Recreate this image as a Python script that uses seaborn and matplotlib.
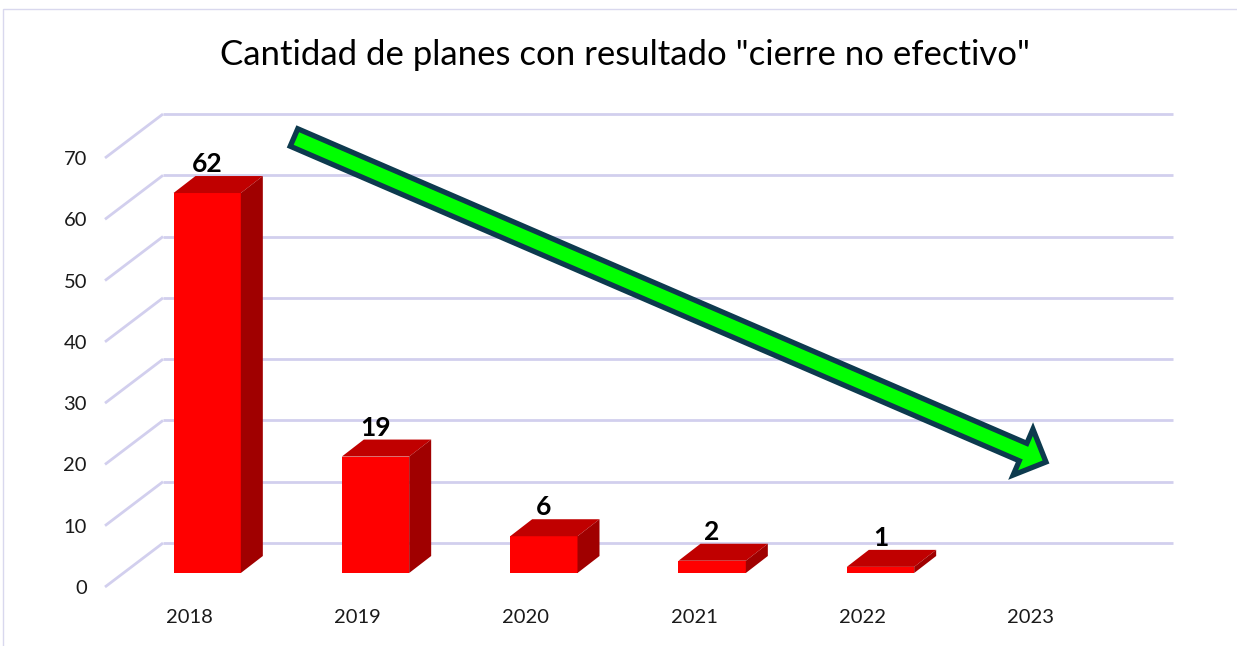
import numpy as np
import pandas as pd
import seaborn as sns
import matplotlib.pyplot as plt
from matplotlib.patches import Polygon, FancyArrow, Rectangle
from matplotlib.transforms import ScaledTranslation

years = ["2018", "2019", "2020", "2021", "2022", "2023"]
counts = [62, 19, 6, 2, 1, np.nan]
y_ticks = [0, 10, 20, 30, 40, 50, 60, 70]
title = 'Cantidad de planes con resultado "cierre no efectivo"'

sns.set_style("white")
plt.rcParams["font.family"] = ["Lato", "DejaVu Sans"]

W, H = 1237, 646
fig = plt.figure(figsize=(W / 100, H / 100), dpi=100)
ax = fig.add_axes([105 / W, (H - 587) / H, 1010 / W, 429 / H])

df = pd.DataFrame({"year": years, "count": counts}).dropna()
sns.barplot(data=df, x="year", y="count", order=years, color="#FF0000",
            saturation=1, width=0.4, errorbar=None, ax=ax, zorder=3,
            edgecolor="none", linewidth=0)

ax.set_xlim(-0.5, 5.5)
ax.set_ylim(0, 70)
ax.set_yticks(y_ticks)
ax.set_xlabel("")
ax.set_ylabel("")
sns.despine(ax=ax, left=True, bottom=True)
ax.tick_params(axis="x", length=0, pad=16, labelsize=14.5, labelcolor="#1a1a1a")
ax.tick_params(axis="y", length=0, pad=13, labelsize=14.5, labelcolor="#1a1a1a")

# pixel -> data unit scale
p = ax.transData.transform([(0, 0), (1, 1)])
sx, sy = p[1, 0] - p[0, 0], p[1, 1] - p[0, 1]

# back wall gridlines and side diagonals
grid_c = "#D2CFEE"
bdx, bdy = 58 / sx, 44 / sy
for v in y_ticks:
    ax.plot([-0.5 + bdx, 5.5 + bdx], [v + bdy, v + bdy], color=grid_c, lw=2,
            zorder=0.5, clip_on=False, solid_capstyle="butt")
    ax.plot([-0.5, -0.5 + bdx], [v, v + bdy], color=grid_c, lw=2,
            zorder=0.5, clip_on=False, solid_capstyle="butt")

# 3D faces of the bars
bar_tr = ax.transData + ScaledTranslation(0.18, 0.14, fig.dpi_scale_trans)
ddx, ddy = 22 / sx, 17 / sy
for bar in list(ax.patches):
    bar.set_transform(bar_tr)
    bar.set_clip_on(False)
    x0 = bar.get_x()
    x1 = x0 + bar.get_width()
    h = bar.get_height()
    top = [(x0, h), (x1, h), (x1 + ddx, h + ddy), (x0 + ddx, h + ddy)]
    side = [(x1, 0), (x1, h), (x1 + ddx, h + ddy), (x1 + ddx, ddy)]
    ax.add_patch(Polygon(top, closed=True, fc="#C00000", ec="none",
                         transform=bar_tr, zorder=3, clip_on=False))
    ax.add_patch(Polygon(side, closed=True, fc="#A00000", ec="none",
                         transform=bar_tr, zorder=3, clip_on=False))
    ax.text((x0 + x1) / 2, h + ddy, f"{h:.0f}", transform=bar_tr,
            ha="center", va="bottom", fontsize=19, fontweight="bold",
            color="black", zorder=4, clip_on=False)

# trend arrow
fig.add_artist(FancyArrow(2.94, (H - 137.5) / 100, (1046 - 294) / 100,
                          -(462 - 137.5) / 100, width=0.19, head_width=0.50,
                          head_length=0.25, length_includes_head=True,
                          fc="#00FF00", ec="#0D3A4E", lw=3.8,
                          transform=fig.dpi_scale_trans, zorder=5))

fig.text(625 / W, 1 - 55 / H, title, ha="center", va="center", fontsize=25,
         color="black")

fig.add_artist(Rectangle((3 / W, -0.1), 1.2, 1.1 - 9 / H, fill=False,
                         ec="#D9D8EE", lw=1, transform=fig.transFigure))

fig.savefig("out.png", dpi=100)
